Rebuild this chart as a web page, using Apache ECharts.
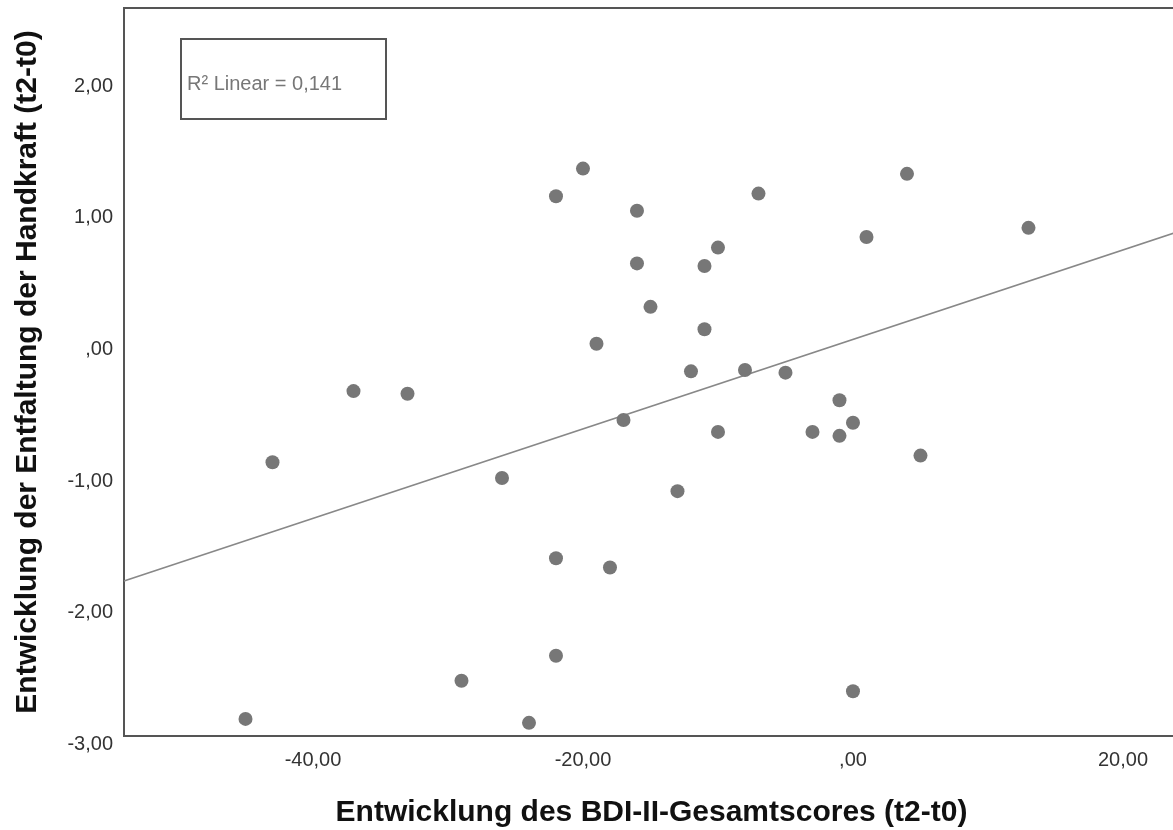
<!DOCTYPE html>
<html>
<head>
<meta charset="utf-8">
<script src="https://cdn.jsdelivr.net/npm/echarts@6/dist/echarts.min.js"></script>
<style>
  html, body { margin: 0; padding: 0; background: #fff; }
  #chart { width: 1173px; height: 830px; }
</style>
</head>
<body>
<div id="chart"></div>
<script>
// BDI-II change (t2-t0)
var bdiChange = [-20, -22, -16, -7, -10, -16, -11, -15, -11, -19, -12, -8, -5, -17, -10, -3, -1, 0, -1, 5,
                 -13, -26, -37, -33, -43, -45, -22, -18, -22, -29, -24, 0, 4, 1, 13];
// Handgrip change (t2-t0)
var gripChange = [1.31, 1.10, 0.99, 1.12, 0.71, 0.59, 0.57, 0.26, 0.09, -0.02, -0.23, -0.22, -0.24, -0.60, -0.69, -0.69, -0.45, -0.62, -0.72, -0.87,
                  -1.14, -1.04, -0.38, -0.40, -0.92, -2.87, -1.65, -1.72, -2.39, -2.58, -2.90, -2.66, 1.27, 0.79, 0.86];
var xTicks = [-40, -20, 0, 20];
var yTicks = [-3, -2, -1, 0, 1, 2];
var fitLabel = 'R\u00B2 Linear = 0,141';
var xTitle = 'Entwicklung des BDI-II-Gesamtscores (t2-t0)';
var yTitle = 'Entwicklung der Entfaltung der Handkraft (t2-t0)';

var X_MIN = -54, X_MAX = 24.15, Y_MIN = -3, Y_MAX = 2.53;

// least squares fit line (as the original "Linear" fit)
var n = bdiChange.length, mx = 0, my = 0;
for (var i = 0; i < n; i++) { mx += bdiChange[i]; my += gripChange[i]; }
mx /= n; my /= n;
var sxy = 0, sxx = 0;
for (var i = 0; i < n; i++) { sxy += (bdiChange[i] - mx) * (gripChange[i] - my); sxx += (bdiChange[i] - mx) * (bdiChange[i] - mx); }
var slope = sxy / sxx, intercept = my - slope * mx;
var fitData = [[X_MIN, intercept + slope * X_MIN], [X_MAX, intercept + slope * X_MAX]];

var points = bdiChange.map(function (x, i) { return [x, gripChange[i]]; });

function fmt(v) {
  var s = Math.abs(v).toFixed(2).replace('.', ',');
  if (Math.abs(v) < 1) s = s.replace(/^0/, '');
  return (v < 0 ? '-' : '') + s;
}

var FONT = "'Liberation Sans', Arial, sans-serif";
var chart = echarts.init(document.getElementById('chart'), null, { renderer: 'canvas' });
chart.setOption({
  backgroundColor: '#ffffff',
  animation: false,
  grid: { left: 124, top: 8, width: 1055, height: 728, outerBoundsMode: 'none', containLabel: false,
          show: true, borderColor: '#555555', borderWidth: 2, backgroundColor: 'transparent' },
  xAxis: {
    type: 'value', min: X_MIN, max: X_MAX,
    name: xTitle, nameLocation: 'middle', nameGap: 62,
    nameTextStyle: { fontFamily: FONT, fontSize: 30, fontWeight: 'bold', color: '#111111' },
    axisLine: { show: false }, axisTick: { show: false }, splitLine: { show: false },
    axisLabel: { customValues: xTicks, formatter: fmt, fontFamily: FONT, fontSize: 20, color: '#333333', margin: 14 }
  },
  yAxis: {
    type: 'value', min: Y_MIN, max: Y_MAX,
    name: yTitle, nameLocation: 'middle', nameGap: 81,
    nameTextStyle: { fontFamily: FONT, fontSize: 30, fontWeight: 'bold', color: '#111111' },
    axisLine: { show: false }, axisTick: { show: false }, splitLine: { show: false },
    axisLabel: { customValues: yTicks, formatter: fmt, fontFamily: FONT, fontSize: 20, color: '#333333', margin: 11, verticalAlign: 'top', lineHeight: 17 }
  },
  series: [
    {
      type: 'line', data: fitData, showSymbol: false, symbol: 'none',
      lineStyle: { color: '#888888', width: 1.6 }, z: 2, silent: true
    },
    {
      type: 'scatter', data: points, symbol: 'circle', symbolSize: 14,
      itemStyle: { color: '#777777', opacity: 1 }, z: 3
    }
  ],
  graphic: [
    { type: 'rect', left: 180, top: 38, shape: { width: 205, height: 80 }, style: { fill: '#ffffff', stroke: '#555555', lineWidth: 2 }, z: 10 },
    { type: 'text', left: 187, top: 74, style: { text: fitLabel, fontFamily: FONT, fontSize: 20, fill: '#777777' }, z: 11 }
  ]
});
</script>
</body>
</html>
